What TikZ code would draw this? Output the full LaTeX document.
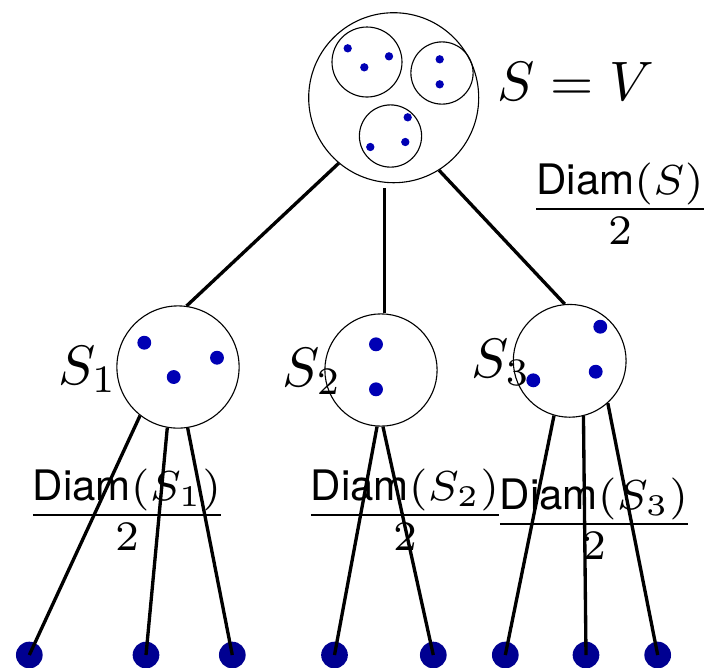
\documentclass[tikz,border=0pt]{standalone}
\usepackage{amsmath}
\usepackage{fontspec}
\newfontfamily\diamfont{TeX Gyre Heros}
\definecolor{dotblue}{RGB}{0,0,180}
\definecolor{leafblue}{RGB}{0,0,145}
\newcommand{\halfdiam}[1]{\scalebox{1.08}{$\frac{\text{\diamfont Diam}(#1)}{2}$}}
\tikzset{
  setc/.style={draw, circle, line width=0.2pt, inner sep=0pt},
  elem/.style={circle, fill=dotblue, inner sep=0pt, minimum size=1.5pt},
  bigelem/.style={elem, minimum size=2.5pt},
  leaf/.style={circle, fill=leafblue, inner sep=0pt, minimum size=4.8pt},
  link/.style={line width=0.6pt},
  lab/.style={inner sep=0pt, anchor=base west},
  frac/.style={inner sep=0pt, anchor=base}
}
\begin{document}
\begin{tikzpicture}[x=0.18pt, y=-0.18pt]
    \useasboundingbox (0,0) rectangle (708,667);

    % Whole set S = V with its three clusters
    \node[setc, minimum size=30.6pt] (top) at (393.7,97.7) {};
    \node[setc, minimum size=12.6pt] (ca) at (367,62) {};
    \node[setc, minimum size=11.2pt] (cb) at (442,73) {};
    \node[setc, minimum size=11.2pt] (cc) at (390.5,136) {};
    \foreach \x/\y [count=\i] in {347.7/48.3, 389/56.3, 364.3/67.3, 439.7/59.3,
        439.7/84.3, 407.7/117.3, 405.3/142, 370.3/147}
        \node[elem] (e\i) at (\x,\y) {};
    \node[lab] (sv) at (496.7,100) {$S=V$};
    \node[frac] (dtop) at (620,224) {\halfdiam{S}};

    % Children S_1, S_2, S_3
    \node[setc, minimum size=22pt] (s1) at (178,367) {};
    \node[setc, minimum size=20.2pt] (s2) at (381,370) {};
    \node[setc, minimum size=20.3pt] (s3) at (569.7,360.8) {};
    \foreach \x/\y [count=\i] in {144.3/342.7, 217/357.7, 173.7/377, 376/344.3,
        376/389.3, 600.3/326.7, 595.7/371.7, 533.3/380.3}
        \node[bigelem] (f\i) at (\x,\y) {};
    \node[lab] (ls1) at (57,384) {$S_1$};
    \node[lab] (ls2) at (281.7,386) {$S_2$};
    \node[lab] (ls3) at (470.7,377) {$S_3$};
    \node[frac] (d1) at (127,530) {\halfdiam{S_1}};
    \node[frac] (d2) at (405,530) {\halfdiam{S_2}};
    \node[frac] (d3) at (594,539) {\halfdiam{S_3}};

    % Leaves
    \foreach \x [count=\i] in {29.3, 146, 232.3, 334.5, 433.3, 505.3, 586, 657.7}
        \node[leaf] (l\i) at (\x,655) {};

    % Tree edges
    \draw[link] (top.230) -- (s1.82);
    \draw[link, shorten <=1pt] (top.264) -- (top.264 |- s2.north);
    \draw[link] (top.302) -- (s3.95);
    \draw[link] (s1.232) -- (l1.center);
    \draw[link] (s1.260) -- (l2.center);
    \draw[link] (s1.279) -- (l3.center);
    \draw[link] (s2.266) -- (l4.center);
    \draw[link] (s2.272) -- (l5.center);
    \draw[link] (s3.254) -- (l6.center);
    \draw[link] (s3.284) -- (l7.center);
    \draw[link] (s3.312) -- (l8.center);

\end{tikzpicture}
\end{document}
